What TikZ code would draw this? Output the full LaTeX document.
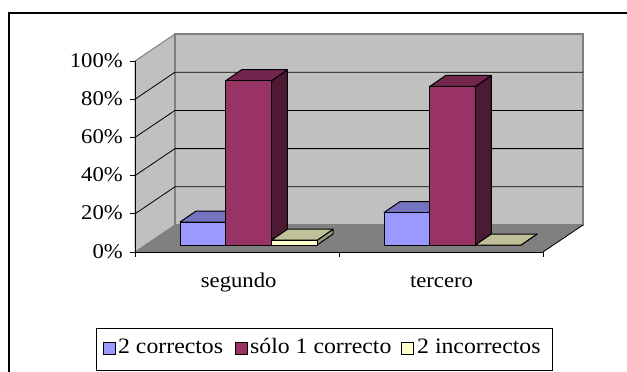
\documentclass[tikz,border=0pt]{standalone}
\usepackage{fontspec}
\setmainfont{Liberation Serif}[FakeStretch=1.08]
\definecolor{wall}{HTML}{C0C0C0}
\definecolor{floorc}{HTML}{808080}
\definecolor{edgeg}{HTML}{808080}
\definecolor{bluefront}{HTML}{9999FF}
\definecolor{bluetop}{HTML}{7373C0}
\definecolor{blueside}{HTML}{5C5C99}
\definecolor{redfront}{HTML}{993366}
\definecolor{redtop}{HTML}{73264D}
\definecolor{redside}{HTML}{4D1A33}
\definecolor{yelfront}{HTML}{FFFFCC}
\definecolor{yeltop}{HTML}{C0C099}
\definecolor{yelside}{HTML}{999980}
\newcommand\barcube[5]{%
  \pgfmathsetmacro\bx{#1}\pgfmathsetmacro\by{245-#2*1.91}%
  \filldraw[barline,fill=#5] (\bx+45.7,245) -- ++(16,-11) -- (\bx+61.7,\by-11) -- (\bx+45.7,\by) -- cycle;
  \filldraw[barline,fill=#4] (\bx,\by) -- ++(16,-11) -- ++(45.7,0) -- (\bx+45.7,\by) -- cycle;
  \filldraw[barline,fill=#3] (\bx,245) rectangle (\bx+45.7,\by);
}
\tikzset{
  barline/.style={draw=black,line width=1pt,line join=round},
  axlabel/.style={inner sep=0pt,font=\fontsize{21}{24}\selectfont},
  leglabel/.style={inner sep=0pt,font=\fontsize{22}{26}\selectfont,anchor=base west},
  legsq/.style={draw=black,line width=1pt},
  grid/.style={draw=black,line width=0.8pt},
}
\begin{document}
\begin{tikzpicture}[x=1pt,y=-1pt]
\useasboundingbox (0,0) rectangle (627,372);
\fill[white] (0,0) rectangle (627,372);
% outer frame (cut at right and bottom)
\draw[line width=1.8pt] (9,372) -- (9,13) -- (627,13);
% walls and floor
\filldraw[fill=wall,draw=edgeg,line width=1pt] (135,61) -- (175,34) -- (175,225) -- (135,252) -- cycle;
\filldraw[fill=wall,draw=edgeg,line width=1.2pt] (175,34) rectangle (583,225);
\fill[floorc] (135,252) -- (175,225) -- (583,225) -- (543,252) -- cycle;
\draw[black,line width=0.8pt] (543,252) -- (583,225);
% gridlines
\foreach \k in {20,40,60,80}{
  \pgfmathsetmacro\ty{252-\k*1.91}
  \draw[grid] (135,\ty) -- (175,\ty-27) -- (583,\ty-27);
}
% axes
\draw[black,line width=1pt] (135,61) -- (135,252) -- (543,252);
\foreach \k/\lab in {0/0\%,20/20\%,40/40\%,60/60\%,80/80\%,100/100\%}{
  \pgfmathsetmacro\ty{252-\k*1.91}
  \draw[black,line width=1pt] (130,\ty) -- (135,\ty);
  \node[axlabel,anchor=base east] (y\k) at (123,\ty+6) {\lab};
}
\foreach \tx in {135,339,543}{\draw[black,line width=1pt] (\tx,252) -- (\tx,257);}
% bars: segundo
\barcube{180}{12}{bluefront}{bluetop}{blueside}
\barcube{225.7}{86}{redfront}{redtop}{redside}
\barcube{271.4}{2.5}{yelfront}{yeltop}{yelside}
% bars: tercero
\barcube{384}{17}{bluefront}{bluetop}{blueside}
\barcube{429.7}{83}{redfront}{redtop}{redside}
\barcube{475.4}{0}{yelfront}{yeltop}{yelside}
% category labels
\node[axlabel,anchor=base] (c1) at (238.7,287) {segundo};
\node[axlabel,anchor=base] (c2) at (441.5,287) {tercero};
% legend
\draw[black,line width=0.8pt] (96,328) rectangle (552,370);
\filldraw[legsq,fill=bluefront] (103,342) rectangle (115,354);
\node[leglabel] (l1) at (118,353) {2 correctos};
\filldraw[legsq,fill=redfront] (235,342) rectangle (247,354);
\node[leglabel] (l2) at (250,353) {sólo 1 correcto};
\filldraw[legsq,fill=yelfront] (401,342) rectangle (413,354);
\node[leglabel] (l3) at (417,353) {2 incorrectos};
\end{tikzpicture}
\end{document}
